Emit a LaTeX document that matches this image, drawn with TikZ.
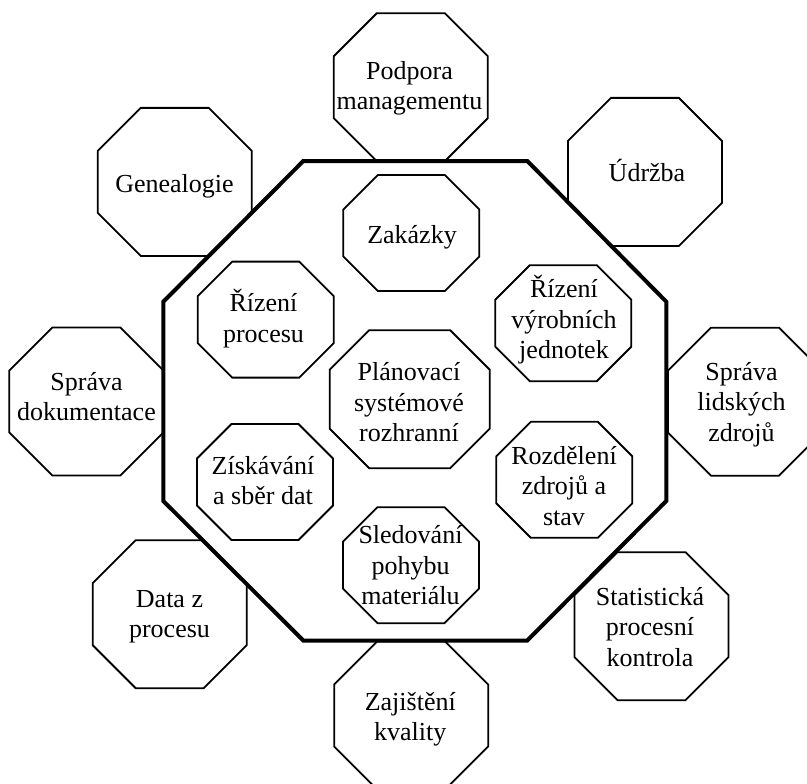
\documentclass[tikz,border=0pt]{standalone}
\usepackage{fontspec}
\setmainfont{Liberation Serif}

% Octagon with centre (#2,#3), half width #4, half height #5 and corner cut #6
\newcommand\octpath[6]{%
  \draw[#1] ({#2-#4+#6},{#3-#5}) -- ({#2+#4-#6},{#3-#5})
    -- ({#2+#4},{#3-#5+#6}) -- ({#2+#4},{#3+#5-#6})
    -- ({#2+#4-#6},{#3+#5}) -- ({#2-#4+#6},{#3+#5})
    -- ({#2-#4},{#3+#5-#6}) -- ({#2-#4},{#3-#5+#6}) -- cycle;}

% every line carries a full-height strut so blocks centre on equal line boxes
\newcommand\lstrut{\rule[-9.15pt]{0pt}{30.5pt}}

\begin{document}
\begin{tikzpicture}[x=1pt,y=-1pt,
  ring/.style={draw=black, line width=1.8pt, fill=white},
  cell/.style={draw=black, line width=1.8pt},
  hub/.style={draw=black, line width=4pt, fill=white},
  lbl/.style={align=center, inner sep=0pt, font=\fontsize{26}{30.5}\selectfont}]

\clip (0,0) rectangle (807,784);

% outer ring of modules
\octpath{ring}{410.8}{87.2}{77}{74}{43}
\octpath{ring}{174.7}{181.9}{77}{74}{43}
\octpath{ring}{644.9}{171.9}{77}{74}{43}
\octpath{ring}{86.3}{401.5}{77}{74}{43}
\octpath{ring}{745}{401.7}{77}{74}{43}
\octpath{ring}{169.7}{614.2}{77}{74}{43}
\octpath{ring}{411.2}{715.5}{77}{74}{43}
\octpath{ring}{651.5}{626.2}{77}{74}{43}

% central frame
\draw[hub] (303.3,161) -- (527.3,161) -- (666.3,301.7) -- (666.3,501)
  -- (527.3,640.5) -- (303.3,640.5) -- (163.3,501) -- (163.3,301.7) -- cycle;

% inner modules
\octpath{cell}{411.3}{233}{68}{58}{34.5}
\octpath{cell}{265.7}{319.6}{68}{58}{34.5}
\octpath{cell}{563.3}{323.2}{68}{58}{34.5}
\octpath{cell}{409.7}{399.2}{80}{69}{39.5}
\octpath{cell}{265}{482}{68}{58}{34.5}
\octpath{cell}{564.3}{479.8}{68}{58}{34.5}
\octpath{cell}{411}{565.2}{68}{58}{34.5}

% labels
\node[lbl] (podpora) at (409.5,88.2) {\lstrut Podpora\\\lstrut managementu};
\node[lbl] (genealogie) at (174.5,186.6) {\lstrut Genealogie};
\node[lbl] (udrzba) at (647,174.9) {\lstrut Údržba};
\node[lbl] (dokumentace) at (86.5,399.5) {\lstrut Správa\\\lstrut dokumentace};
\node[lbl] (lidske) at (741.5,404.7) {\lstrut Správa\\\lstrut lidských\\\lstrut zdrojů};
\node[lbl] (data) at (169.5,616.2) {\lstrut Data z\\\lstrut procesu};
\node[lbl] (kvalita) at (410.3,719.5) {\lstrut Zajištění\\\lstrut kvality};
\node[lbl] (spc) at (650,629.7) {\lstrut Statistická\\\lstrut procesní\\\lstrut kontrola};

\node[lbl] (zakazky) at (412,237.2) {\lstrut Zakázky};
\node[lbl] (rizeniproc) at (263.5,320.2) {\lstrut Řízení\\\lstrut procesu};
\node[lbl] (jednotky) at (564,321.6) {\lstrut Řízení\\\lstrut výrobních\\\lstrut jednotek};
\node[lbl] (planovani) at (409,404.9) {\lstrut Plánovací\\\lstrut systémové\\\lstrut rozhranní};
\node[lbl] (sber) at (263,483.5) {\lstrut Získávání\\\lstrut a sběr dat};
\node[lbl] (zdroje) at (564,488.7) {\lstrut Rozdělení\\\lstrut zdrojů a\\\lstrut stav};
\node[lbl] (pohyb) at (410.5,568.1) {\lstrut Sledování\\\lstrut pohybu\\\lstrut materiálu};
\end{tikzpicture}
\end{document}
